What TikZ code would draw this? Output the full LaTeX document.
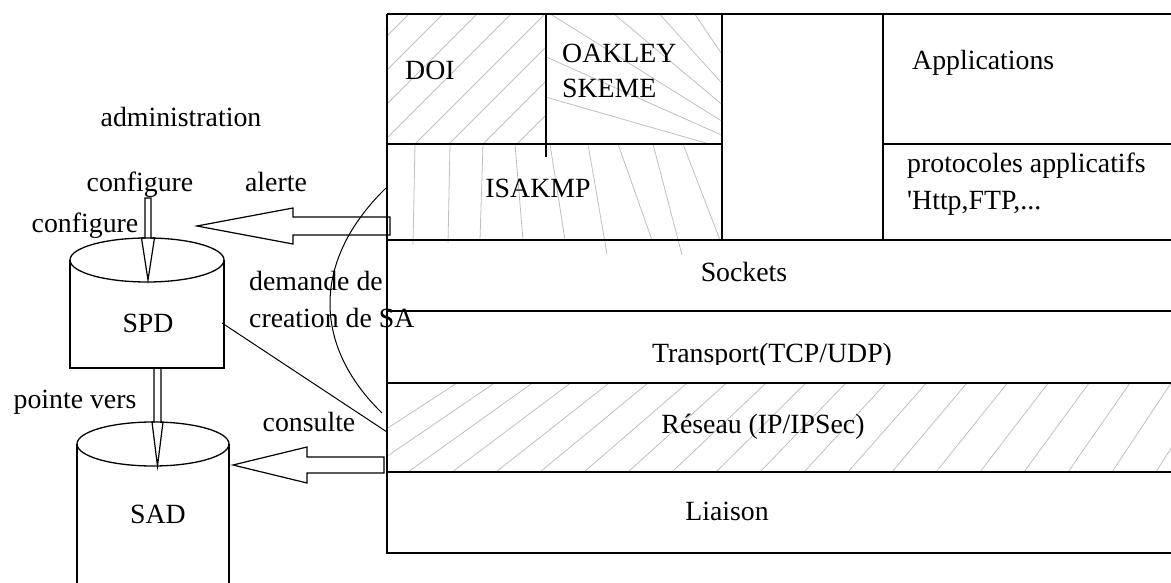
\documentclass[tikz,border=0pt]{standalone}
\usepackage{fontspec}
\setmainfont{Liberation Serif}
\usetikzlibrary{calc}
\begin{document}
\begin{tikzpicture}[x=1pt,y=-1pt,
  lbl/.style={inner sep=0pt, font=\fontsize{27.8}{33}\selectfont},
  layerline/.style={line width=1.5pt},
  hatch/.style={draw=black!25, line width=0.8pt},
  blk/.style={draw, line width=1.2pt, line join=miter},
  link/.style={line width=1pt},
  can/.style={line width=1.3pt}]
\useasboundingbox (0,0) rectangle (1171,583);
\clip (0,0) rectangle (1171,583);

% ---- light hatching of the IPSec parts ----
% DOI
\begin{scope}
  \clip (387,14) rectangle (546,144);
  \foreach \k in {-1,...,8}
    \draw[hatch] ({443+34*\k-170},184) -- ({443+34*\k+30},-16);
\end{scope}
% OAKLEY / SKEME : fan of lines
\begin{scope}
  \clip (546,14) rectangle (722,144);
  \foreach \a in {16,24,...,72}
    \draw[hatch] (800,170) -- ({800-420*cos(\a)},{170-420*sin(\a)});
\end{scope}
% ISAKMP : almost vertical strokes
\foreach \xt/\xb/\yb in {415/413/245, 450/448/243, 483/480/240, 515/523/240,
                         550/565/240, 588/607/254, 618/652/240, 653/682/255, 683/720/240}
  \draw[hatch] (\xt,144) -- (\xb,\yb);
% Reseau (IP/IPSec)
\begin{scope}
  \clip (387,383) rectangle (1175,472);
  \foreach \xb in {320,364,...,1210} {
    \pgfmathsetmacro\ang{33+(\xb-320)*0.0296}
    \draw[hatch] (\xb,472) -- ({\xb+89/tan(\ang)},383);
  }
\end{scope}

% ---- protocol stack ----
\draw[layerline] (387,14) -- (1175,14);
\draw[layerline] (387,14) -- (387,553) -- (1175,553);
\draw[layerline] (387,144) -- (722,144);
\draw[layerline] (883,144) -- (1175,144);
\draw[layerline] (387,240) -- (1175,240);
\draw[layerline] (387,311) -- (1175,311);
\draw[layerline] (387,383) -- (1175,383);
\draw[layerline] (387,472) -- (1175,472);
\draw[layerline] (546,14) -- (546,157);
\draw[layerline] (722,14) -- (722,240);
\draw[layerline] (883,14) -- (883,240);

\node[lbl,anchor=base west] (doi) at (405,80) {DOI};
\node[lbl,anchor=base west] (oakley) at (562,63) {OAKLEY};
\node[lbl,anchor=base west] (skeme) at (562,98) {SKEME};
\node[lbl,anchor=base] (isakmp) at (538,198) {ISAKMP};
\node[lbl,anchor=base west] (apps) at (912,70) {Applications};
\node[lbl,anchor=base west] (proto) at (907,173) {protocoles applicatifs};
\node[lbl,anchor=base west] (protolist) at (907,210) {\textquotesingle Http,FTP,...};
\node[lbl,anchor=base] (sockets) at (744,281) {Sockets};
\begin{scope}
  \clip (600,320) rectangle (950,364);
  \node[lbl,anchor=base] (transport) at (772,362) {Transport(TCP/UDP)};
\end{scope}
\node[lbl,anchor=base] (reseau) at (763,433) {Réseau (IP/IPSec)};
\node[lbl,anchor=base] (liaison) at (727,520) {Liaison};

% ---- databases ----
\draw[can] (70,260) -- (70,368) -- (224,368) -- (224,260);
\draw[can] (147,260) ellipse (77pt and 22pt);
\draw[can] (77,444) -- (77,600);
\draw[can] (229,444) -- (229,600);
\draw[can] (153,444) ellipse (76pt and 22pt);
\node[lbl,anchor=base] (spd) at (148,332) {SPD};
\node[lbl,anchor=base] (sad) at (158,523) {SAD};

% ---- labels ----
\node[lbl,anchor=base] (admin) at (181,127) {administration};
\node[lbl,anchor=base] (cfgtop) at (140,192) {configure};
\node[lbl,anchor=base] (alerte) at (276,192) {alerte};
\node[lbl,anchor=base] (cfgleft) at (85,233) {configure};
\node[lbl,anchor=base west] (dem1) at (249,290) {demande de};
\node[lbl,anchor=base west] (dem2) at (249,327) {creation de SA};
\node[lbl,anchor=base] (pointe) at (75,408) {pointe vers};
\node[lbl,anchor=base] (consulte) at (309,431) {consulte};

% ---- anchor points of the connectors ----
\coordinate (alertTail) at (390,226);
\coordinate (alertTip) at (197,226);
\coordinate (consTail) at (384,465);
\coordinate (consTip) at (233,465);
\coordinate (cfgTail) at (148,198);
\coordinate (cfgTip) at (148,280);
\coordinate (ptTail) at (157.5,368);
\coordinate (ptTip) at (157.5,466);
\coordinate (spdSide) at (222,323);
\coordinate (netA) at (387,432);
\coordinate (ikeTop) at (386,188);
\coordinate (netB) at (382,413);

% ---- hollow block arrows ----
\draw[blk] (alertTip) -- ($(alertTip)+(96,-18)$) -- ($(alertTip)+(96,-9)$)
  -- ($(alertTail)+(0,-9)$) -- ($(alertTail)+(0,9)$)
  -- ($(alertTip)+(96,9)$) -- ($(alertTip)+(96,18)$) -- cycle;
\draw[blk] (consTip) -- ($(consTip)+(74,-18)$) -- ($(consTip)+(74,-8)$)
  -- ($(consTail)+(0,-8)$) -- ($(consTail)+(0,8)$)
  -- ($(consTip)+(74,8)$) -- ($(consTip)+(74,18)$) -- cycle;
\draw[blk] (cfgTip) -- ($(cfgTip)+(-6.5,-42)$) -- ($(cfgTip)+(-3,-42)$)
  -- ($(cfgTail)+(-3,0)$) -- ($(cfgTail)+(3,0)$)
  -- ($(cfgTip)+(3,-42)$) -- ($(cfgTip)+(6.5,-42)$) -- cycle;
\draw[blk] (ptTip) -- ($(ptTip)+(-5.5,-44)$) -- ($(ptTip)+(-3.5,-44)$)
  -- ($(ptTail)+(-3.5,0)$) -- ($(ptTail)+(3.5,0)$)
  -- ($(ptTip)+(3.5,-44)$) -- ($(ptTip)+(5.5,-44)$) -- cycle;

% ---- plain connectors ----
\draw[link] (spdSide) -- (netA);
\draw[link] (ikeTop) .. controls (312,260) and (312,345) .. (netB);
\end{tikzpicture}
\end{document}
